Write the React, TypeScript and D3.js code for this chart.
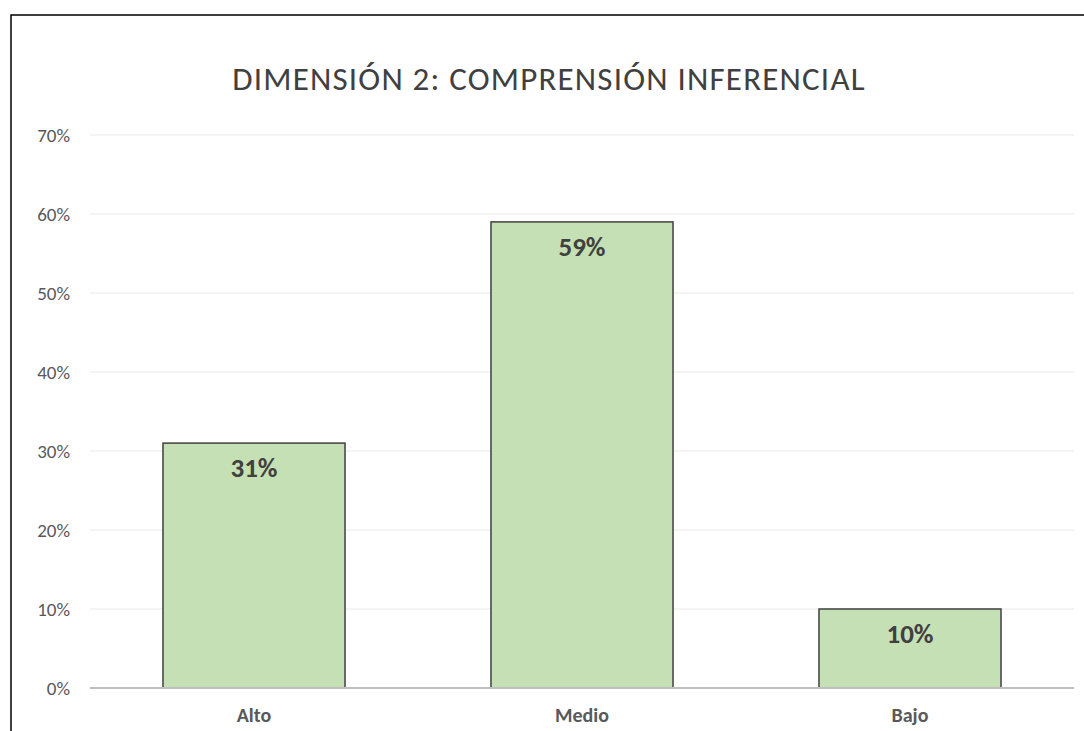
import React from "react";
import * as d3 from "d3";

// datos del gráfico
const categories = ["Alto", "Medio", "Bajo"];
const values = [0.31, 0.59, 0.1];
const yTicks = [0, 0.1, 0.2, 0.3, 0.4, 0.5, 0.6, 0.7];
const title = "DIMENSIÓN 2: COMPRENSIÓN INFERENCIAL";

const W = 1084;
const H = 731;
const font = "Carlito, 'Open Sans', 'Noto Sans', sans-serif";

const App = () => {
  const left = 90;
  const right = 1074;
  const top = 135;
  const bottom = 688;

  const x = d3
    .scaleBand<string>()
    .domain(categories)
    .range([left, right])
    .paddingInner(0.445)
    .paddingOuter(0.2225);

  const y = d3.scaleLinear().domain([0, 0.7]).range([bottom, top]);
  const pct = d3.format(".0%");

  return (
    <svg
      width={W}
      height={H}
      style={{ position: "absolute", left: 0, top: 0, background: "#fff" }}
    >
      {/* marco del gráfico (sigue fuera de la imagen) */}
      <rect x={11} y={15} width={1200} height={900} fill="#fff" stroke="#000" strokeWidth={1.5} />

      <text
        x={549}
        y={90}
        textAnchor="middle"
        fontFamily={font}
        fontSize={33}
        letterSpacing={1.2}
        fill="#404040"
      >
        {title}
      </text>

      {/* líneas de la cuadrícula y etiquetas */}
      {yTicks.map((t) => (
        <g key={t}>
          {t > 0 && (
            <line x1={left} x2={right} y1={y(t)} y2={y(t)} stroke="#f0f0f0" strokeWidth={1.3} />
          )}
          <text
            x={70}
            y={y(t)}
            dy="0.35em"
            textAnchor="end"
            fontFamily={font}
            fontSize={19}
            fill="#595959"
          >
            {pct(t)}
          </text>
        </g>
      ))}

      {categories.map((c, i) => (
        <g key={c}>
          <rect
            x={x(c)}
            y={y(values[i])}
            width={x.bandwidth()}
            height={bottom - y(values[i])}
            fill="#c5e0b4"
            stroke="#404040"
            strokeWidth={1.5}
          />
          <text
            x={x(c)! + x.bandwidth() / 2}
            y={y(values[i]) + 34}
            textAnchor="middle"
            fontFamily={font}
            fontSize={27}
            fontWeight="bold"
            fill="#404040"
          >
            {pct(values[i])}
          </text>
          <text
            x={x(c)! + x.bandwidth() / 2}
            y={722}
            textAnchor="middle"
            fontFamily={font}
            fontSize={20}
            fontWeight="bold"
            fill="#595959"
          >
            {c}
          </text>
        </g>
      ))}

      {/* eje x */}
      <line x1={left} x2={right} y1={bottom} y2={bottom} stroke="#bfbfbf" strokeWidth={2} />
    </svg>
  );
};

export default App;
